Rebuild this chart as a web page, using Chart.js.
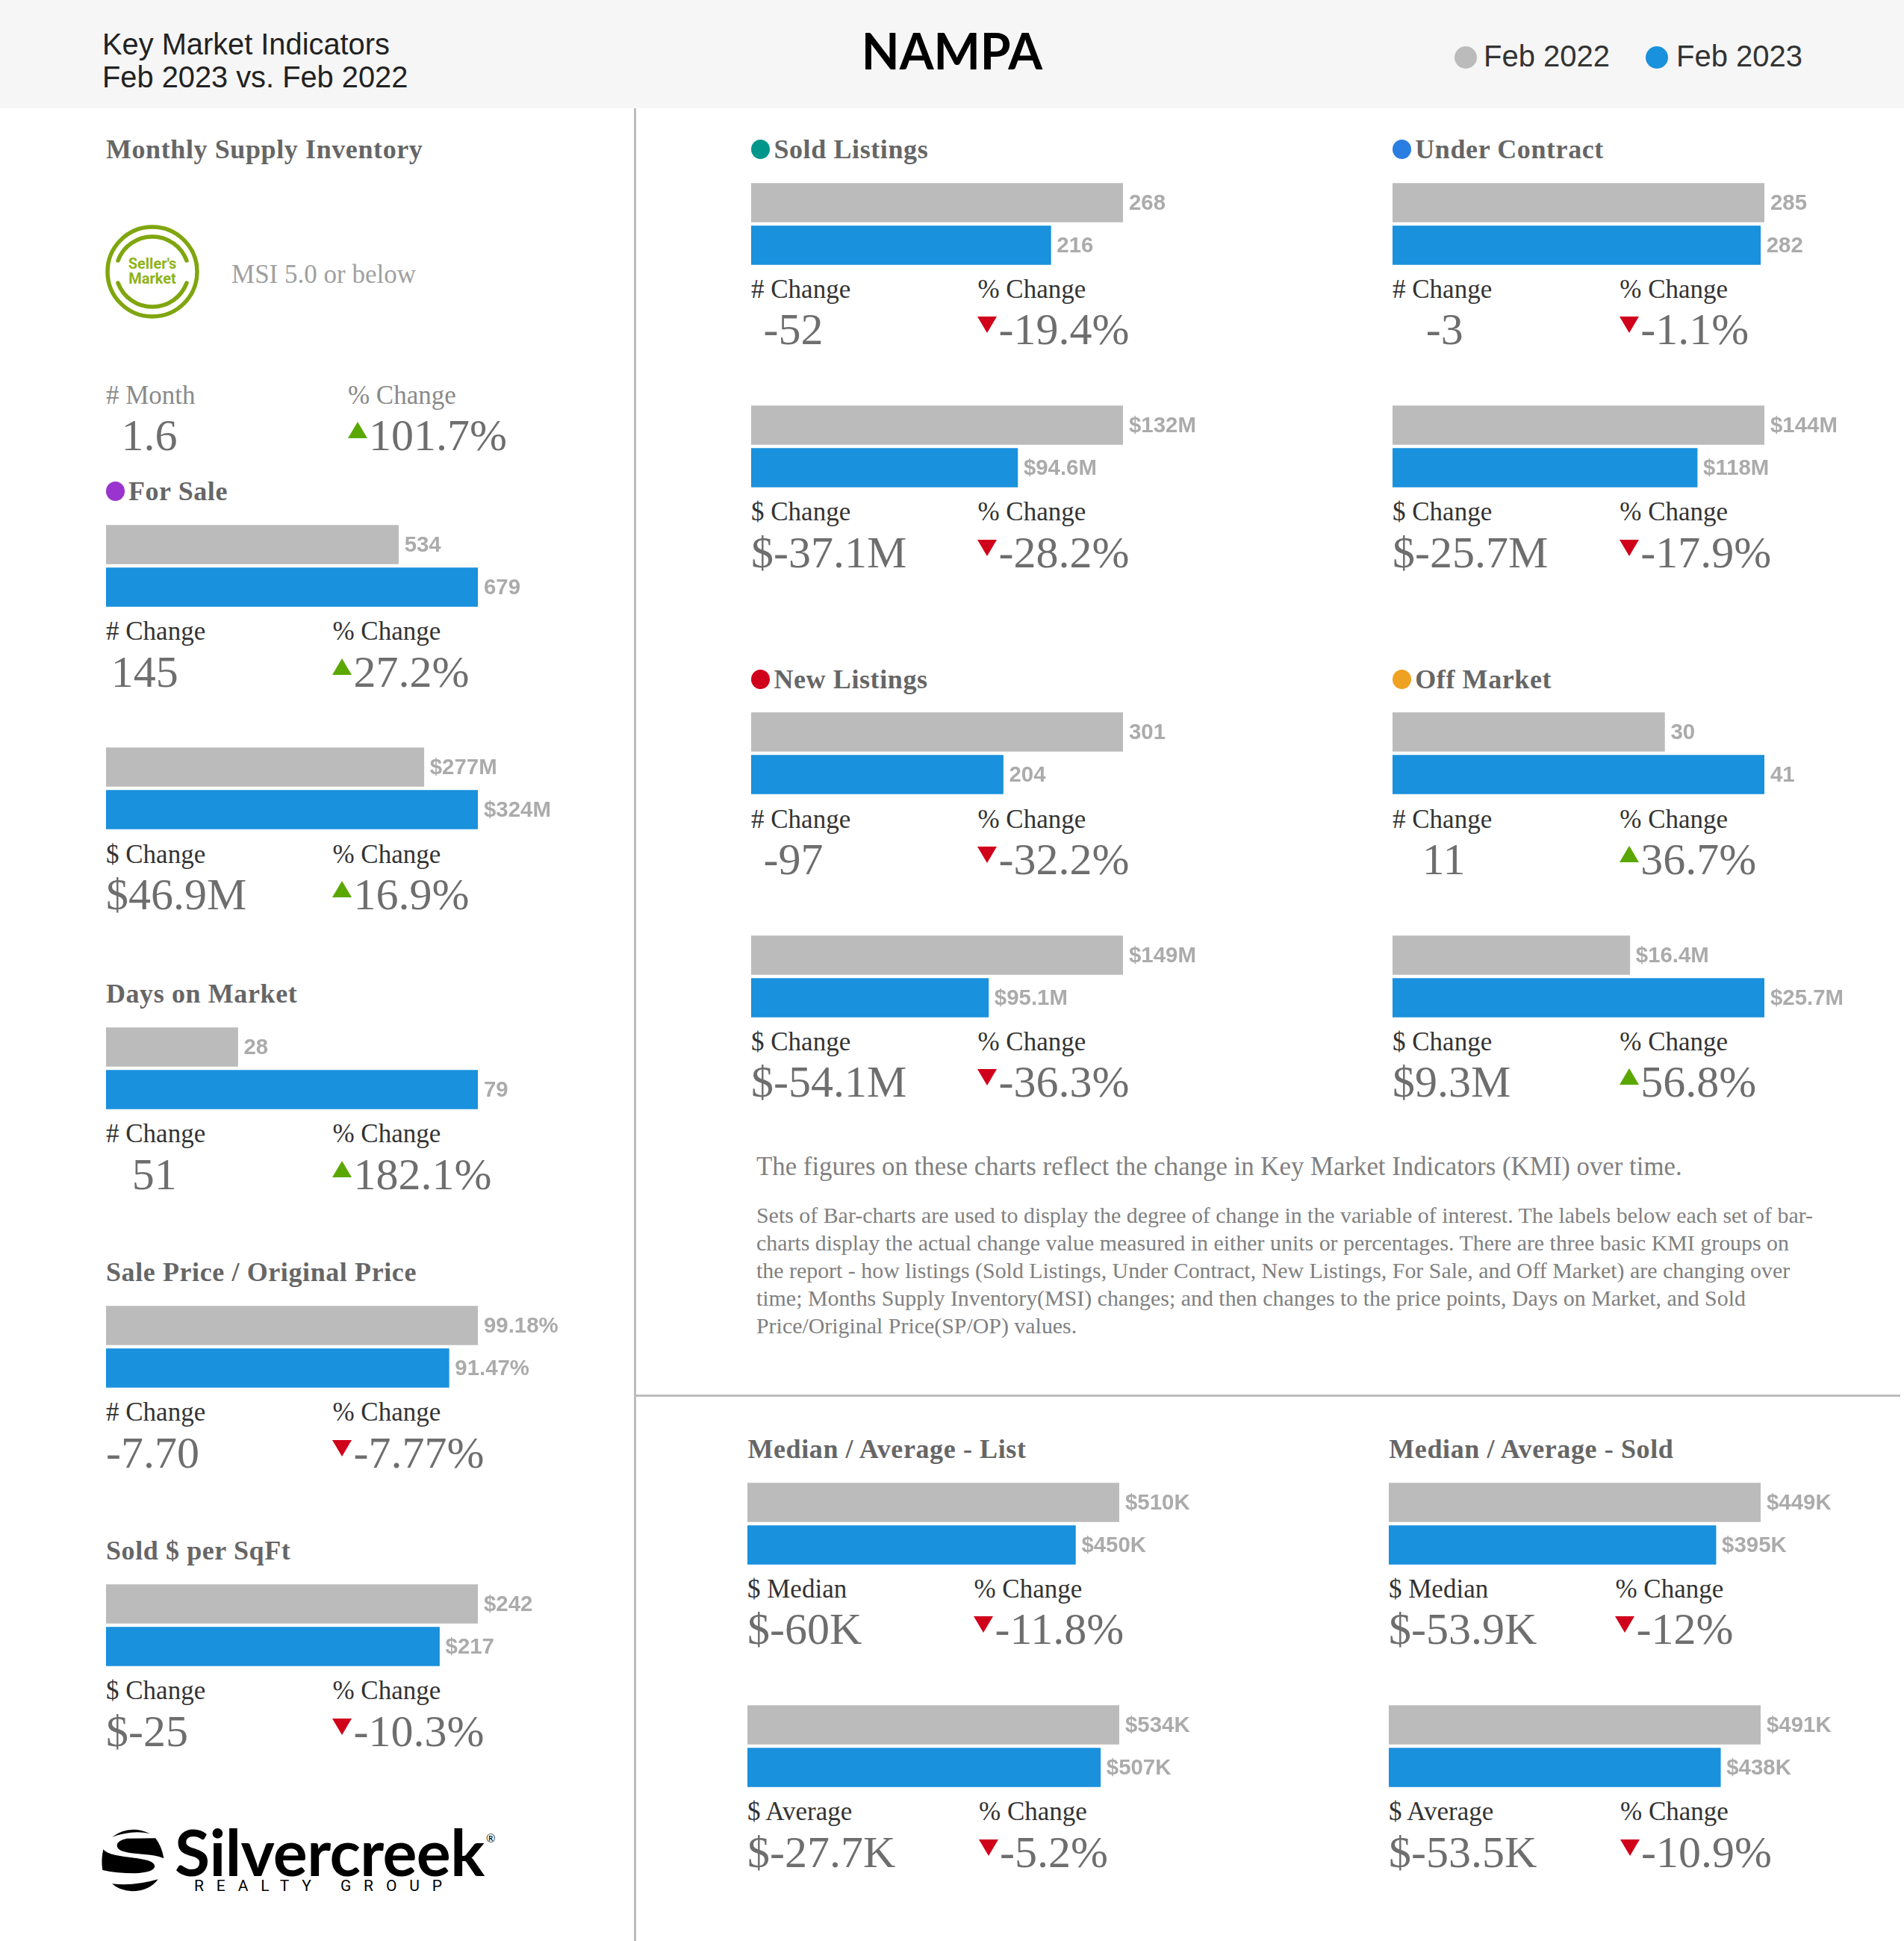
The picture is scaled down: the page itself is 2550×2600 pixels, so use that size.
<!DOCTYPE html>
<html><head><meta charset="utf-8">
<style>
html,body{margin:0;padding:0;background:#fff;width:2550px;height:2600px;overflow:hidden}
#page{position:relative;width:2550px;height:2600px;overflow:hidden}
.t{position:absolute;white-space:nowrap;transform:translateY(-50%);line-height:1}
.s{font-family:"Liberation Serif",serif}
.a{font-family:"Liberation Sans",sans-serif}
.h{font-weight:bold;font-size:36px;letter-spacing:.6px;color:#666}
.l{font-size:35px;color:#333}
.v{font-size:60px;color:#6e6e6e;line-height:.8}
canvas{position:absolute}
.tri{position:absolute;width:0;height:0;border-left:13.5px solid transparent;border-right:13.5px solid transparent}
.dot{position:absolute;border-radius:50%}
.rule{position:absolute;background:#bdbdbd}
</style></head><body><div id="page"></div>
<script src="https://cdn.jsdelivr.net/npm/chart.js@4"></script>
<script>
// ---- data ----
const periods = ['Feb 2022','Feb 2023'];
const seriesColors = ['#bbbbbb','#1991dc'];
const forSaleCount = [534,679];      const forSaleCountChange = ['145','27.2%',1];
const forSaleVolume = [277,324];     const forSaleVolumeChange = ['$46.9M','16.9%',1];
const daysOnMarket = [28,79];        const daysOnMarketChange = ['51','182.1%',1];
const salePriceRatio = [99.18,91.47];const salePriceRatioChange = ['-7.70','-7.77%',0];
const soldPerSqft = [242,217];       const soldPerSqftChange = ['$-25','-10.3%',0];
const soldCount = [268,216];         const soldCountChange = ['-52','-19.4%',0];
const soldVolume = [132,94.6];       const soldVolumeChange = ['$-37.1M','-28.2%',0];
const underCount = [285,282];        const underCountChange = ['-3','-1.1%',0];
const underVolume = [144,118];       const underVolumeChange = ['$-25.7M','-17.9%',0];
const newCount = [301,204];          const newCountChange = ['-97','-32.2%',0];
const newVolume = [149,95.1];        const newVolumeChange = ['$-54.1M','-36.3%',0];
const offCount = [30,41];            const offCountChange = ['11','36.7%',1];
const offVolume = [16.4,25.7];       const offVolumeChange = ['$9.3M','56.8%',1];
const listMedian = [510,450];        const listMedianChange = ['$-60K','-11.8%',0];
const listAverage = [534,507];       const listAverageChange = ['$-27.7K','-5.2%',0];
const soldMedian = [449,395];        const soldMedianChange = ['$-53.9K','-12%',0];
const soldAverage = [491,438];       const soldAverageChange = ['$-53.5K','-10.9%',0];
const msiChange = ['1.6','101.7%',1];

const plain = v => String(v);
const money = s => v => '$'+v+s;
const pct = v => v.toFixed(2)+'%';

// ---- layout (units of 1/1.658 page px) ----
const S = 2550/1538;
const BAR_W = 498;
const blocks = [
 [85.6,424,forSaleCount,plain,'# Change',forSaleCountChange,183,4],
 [85.6,604,forSaleVolume,money('M'),'$ Change',forSaleVolumeChange,183,0],
 [85.6,830,daysOnMarket,plain,'# Change',daysOnMarketChange,183,21],
 [85.6,1055,salePriceRatio,pct,'# Change',salePriceRatioChange,183,0],
 [85.6,1280,soldPerSqft,money(''),'$ Change',soldPerSqftChange,183,0],
 [607,147.6,soldCount,plain,'# Change',soldCountChange,183,10],
 [607,327.6,soldVolume,money('M'),'$ Change',soldVolumeChange,183,0],
 [1125,147.6,underCount,plain,'# Change',underCountChange,183.5,27],
 [1125,327.6,underVolume,money('M'),'$ Change',underVolumeChange,183.5,0],
 [607,575.6,newCount,plain,'# Change',newCountChange,183,10],
 [607,755.6,newVolume,money('M'),'$ Change',newVolumeChange,183,0],
 [1125,575.6,offCount,plain,'# Change',offCountChange,183.5,24],
 [1125,755.6,offVolume,money('M'),'$ Change',offVolumeChange,183.5,0],
 [604,1197.6,listMedian,money('K'),'$ Median',listMedianChange,183,0],
 [604,1377.6,listAverage,money('K'),'$ Average',listAverageChange,187,0],
 [1122,1197.6,soldMedian,money('K'),'$ Median',soldMedianChange,183,0],
 [1122,1377.6,soldAverage,money('K'),'$ Average',soldAverageChange,187,0]
];
const titles = [
 [85.6,120.5,'Monthly Supply Inventory',null],
 [85.6,397,'For Sale','#9b33cf'],
 [85.6,803,'Days on Market',null],
 [85.6,1028,'Sale Price / Original Price',null],
 [85.6,1253,'Sold $ per SqFt',null],
 [607,120.5,'Sold Listings','#00978a'],
 [1125,120.5,'Under Contract','#2a7de1'],
 [607,549,'New Listings','#d0021b'],
 [1125,549,'Off Market','#efa121'],
 [604,1170.5,'Median / Average - List',null],
 [1122,1170.5,'Median / Average - Sold',null]
];
const bodyLines = [
 'Sets of Bar-charts are used to display the degree of change in the variable of interest. The labels below each set of bar-',
 'charts display the actual change value measured in either units or percentages. There are three basic KMI groups on',
 'the report - how listings (Sold Listings, Under Contract, New Listings, For Sale, and Off Market) are changing over',
 'time; Months Supply Inventory(MSI) changes; and then changes to the price points, Days on Market, and Sold',
 'Price/Original Price(SP/OP) values.'
];

const page = document.getElementById('page');
function text(x,y,str,cls,style){
  const d=document.createElement('div');d.className='t '+cls;d.textContent=str;
  d.style.left=x+'px';d.style.top=y+'px';
  if(style)Object.assign(d.style,style);
  page.appendChild(d);return d;
}
function box(x,y,w,h,bg,cls){
  const d=document.createElement('div');d.className=cls||'';
  Object.assign(d.style,{position:'absolute',left:x+'px',top:y+'px',width:w+'px',height:h+'px',background:bg});
  page.appendChild(d);return d;
}
function tri(x,yc,up){
  const d=document.createElement('div');d.className='tri';
  d.style.left=x+'px';
  if(up){d.style.top=(yc-18)+'px';d.style.borderBottom='22px solid #5aa700';}
  else{d.style.top=(yc-17)+'px';d.style.borderTop='22px solid #d0021b';}
  page.appendChild(d);
}
function change(lx,ly,vx,vy,px,labA,labB,c,labColor){
  const st=labColor?{color:labColor}:null;
  text(lx,ly,labA,'s l',st);
  text(px,ly,labB,'s l',st);
  text(vx,vy,c[0],'s v');
  tri(px,vy,c[2]);
  text(px+28,vy,c[1],'s v');
}

// header
box(0,0,2550,145,'#f6f6f6');
text(137,60,'Key Market Indicators','a',{fontSize:'39.8px',color:'#222'});
text(137,104,'Feb 2023 vs. Feb 2022','a',{fontSize:'39.8px',color:'#222'});
text(1275,68,'NAMPA','',{fontFamily:'Lato,sans-serif',fontWeight:'700',fontSize:'66px',color:'#000',transform:'translate(-50%,-50%)'});
box(1948,62,30,30,seriesColors[0],'dot');
text(1987,75,periods[0],'a',{fontSize:'40px',color:'#333'});
box(2204,62,30,30,seriesColors[1],'dot');
text(2245,75,periods[1],'a',{fontSize:'40px',color:'#333'});

// rules
box(849,145,3,2455,'#bdbdbd','rule');
box(852,1868,1693,3,'#bdbdbd','rule');

// titles
titles.forEach(([x,y,str,col])=>{
  const px=x*S,py=y*S;
  if(col){box(px,py-13,25,26,col,'dot');text(px+30,py,str,'s h');}
  else text(px,py,str,'s h');
});

// MSI block
text(187*S,221.5*S,'MSI 5.0 or below','s',{fontSize:'35px',color:'#a0a0a0'});
change(85.6*S,319*S,98*S,351.6*S,281*S,'# Month','% Change',msiChange,'#8a8a8a');
const logo=document.createElement('div');
logo.innerHTML=`<svg xmlns="http://www.w3.org/2000/svg" width="130" height="130" viewBox="0 0 130 130" style="position:absolute;left:139px;top:299px">
<circle cx="65" cy="65" r="60" fill="none" stroke="#7fa60f" stroke-width="5.5"/>
<path d="M19 50 A49 49 0 0 1 111 50 M111 80 A49 49 0 0 1 19 80" fill="none" stroke="#7fa60f" stroke-width="5.5" stroke-linecap="round"/>
<text x="65" y="61" text-anchor="middle" font-family="Roboto,sans-serif" font-weight="700" font-size="20" fill="#8fb31a">Seller's</text>
<text x="65" y="81" text-anchor="middle" font-family="Roboto,sans-serif" font-weight="700" font-size="20" fill="#8fb31a">Market</text>
</svg>`;
page.appendChild(logo);

// description
text(1013,1563,'The figures on these charts reflect the change in Key Market Indicators (KMI) over time.','s',{fontSize:'34.8px',color:'#808080'});
bodyLines.forEach((ln,i)=>text(1013,1628+i*37,ln,'s',{fontSize:'29.9px',color:'#808080'}));

// brand logo
const brand=document.createElement('div');
brand.innerHTML=`<svg xmlns="http://www.w3.org/2000/svg" width="300" height="120" viewBox="0 0 900 360" style="position:absolute;left:120px;top:2430px">
<path d="M90 92 Q160 40 242 78 Q170 62 90 92 Z" fill="#000"/>
<path d="M150 98 L265 97 Q290 130 298 178 C240 150 110 170 110 125 Q112 105 150 98 Z" fill="#000"/>
<path d="M55 142 C90 185 260 165 262 210 Q258 235 180 238 Q110 238 52 225 Q45 185 55 142 Z" fill="#000"/>
<path d="M90 280 Q180 290 275 262 Q240 310 170 310 Q120 308 90 280 Z" fill="#000"/>
</svg>`;
page.appendChild(brand);
text(234,2480,'Silvercreek','',{fontFamily:'Lato,sans-serif',fontWeight:'700',fontSize:'86px',color:'#000',letterSpacing:'-.6px',lineHeight:'.8'});
text(651,2462,'®','',{fontFamily:'Lato,sans-serif',fontSize:'15px',color:'#000'});
text(260,2526,'REALTY GROUP','',{fontFamily:'Roboto,sans-serif',fontSize:'21px',color:'#000',letterSpacing:'16.9px',lineHeight:'.8'});

// charts
const valueLabels = {
  id:'valueLabels',
  afterDatasetsDraw(chart,args,opts){
    const ctx=chart.ctx, meta=chart.getDatasetMeta(0);
    ctx.save();
    ctx.font='bold 29.4px "Liberation Sans", sans-serif';
    ctx.fillStyle='#ababab';ctx.textBaseline='middle';ctx.textAlign='left';
    meta.data.forEach((el,i)=>{
      ctx.fillText(opts.format(chart.data.datasets[0].data[i]),el.x+8,el.y+1);
    });
    ctx.restore();
  }
};
blocks.forEach(([x,y,vals,fmt,labA,chg,pdx,vdx])=>{
  const px=Math.round(x*S),py=Math.round(y*S);
  const c=document.createElement('canvas');
  const extra=170;
  c.width=BAR_W+extra;c.height=114;
  c.style.left=px+'px';c.style.top=(py-2)+'px';
  c.style.width=(BAR_W+extra)+'px';c.style.height='114px';
  page.appendChild(c);
  new Chart(c,{
    type:'bar',
    data:{labels:periods,datasets:[{data:vals,backgroundColor:seriesColors,barThickness:52,borderWidth:0}]},
    options:{
      indexAxis:'y',responsive:false,animation:false,devicePixelRatio:1,
      layout:{padding:{left:0,top:0,bottom:0,right:extra}},
      scales:{x:{display:false,min:0,max:Math.max(...vals)},y:{display:false}},
      plugins:{legend:{display:false},tooltip:{enabled:false},valueLabels:{format:fmt}}
    },
    plugins:[valueLabels]
  });
  change(px,(y+85.8)*S,px+vdx*S,(y+118.6)*S,px+pdx*S,labA,'% Change',chg);
});
</script></body></html>
